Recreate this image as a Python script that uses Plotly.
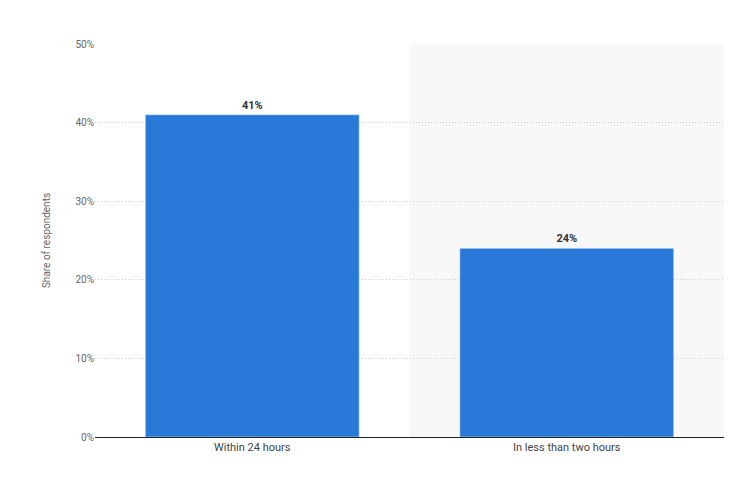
import plotly.graph_objects as go

categories = ["Within 24 hours", "In less than two hours"]
values = [41, 24]
labels = ["41%", "24%"]

fig = go.Figure(go.Bar(
    x=categories, y=values, marker_color="#2979d9", width=0.68,
    text=labels, textposition="outside", cliponaxis=False,
    textfont=dict(family="Roboto, Arial", size=11, color="#333333"),
    texttemplate="<b>%{text}</b>", hoverinfo="skip"))

fig.add_shape(type="rect", xref="x", yref="paper", x0=0.5, x1=1.5, y0=0, y1=1,
              fillcolor="#f8f8f9", line_width=0, layer="below")

fig.update_layout(
    width=738, height=483,
    margin=dict(l=87, r=22, t=36, b=54),
    paper_bgcolor="white", plot_bgcolor="white",
    showlegend=False,
    font=dict(family="Roboto, Arial", size=10, color="#666666"),
    xaxis=dict(showline=True, linecolor="#222222", linewidth=1, ticks="",
               tickfont=dict(size=11, color="#444444"), range=[-0.5, 1.5]),
    yaxis=dict(range=[0, 50], dtick=10, ticksuffix="%", showgrid=True,
               gridcolor="#cccccc", griddash="1px,2px", zeroline=False,
               title=dict(text="Share of respondents", font=dict(size=10, color="#666666"), standoff=22),
               tickfont=dict(size=10, color="#666666")),
)
fig.write_html("out.html")
